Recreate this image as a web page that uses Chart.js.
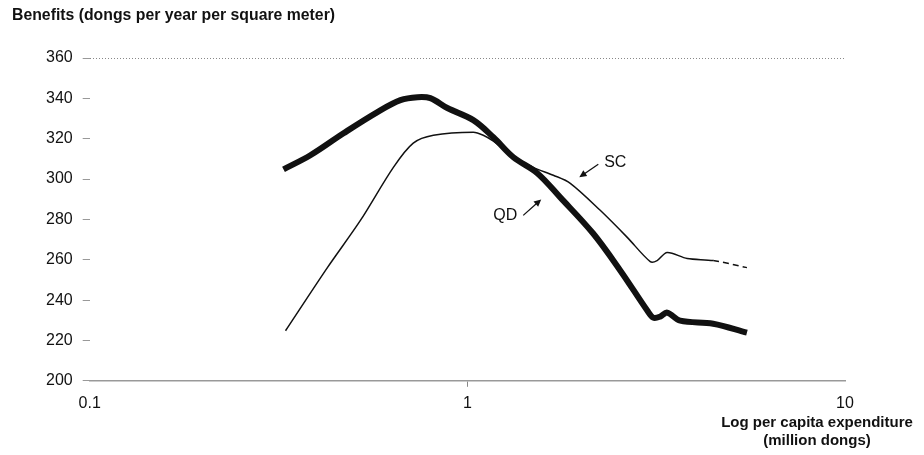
<!DOCTYPE html>
<html>
<head>
<meta charset="utf-8">
<script src="https://cdn.jsdelivr.net/npm/chart.js@4"></script>
<style>
  html, body { margin: 0; padding: 0; background: #fff; }
  canvas { display: block; }
</style>
</head>
<body>
<canvas id="grafico" width="924" height="455"></canvas>
<script>
// ── data ──
const qdX = [0.326, 0.384, 0.470, 0.578, 0.665, 0.738, 0.798, 0.885, 1.037, 1.172, 1.324, 1.532, 1.762, 2.154, 2.540, 2.995, 3.105, 3.24, 3.381, 3.66, 4.476, 5.50];
const qdY = [304.8, 311.8, 322.7, 333.2, 339.1, 340.6, 340.1, 335.2, 329.2, 320.7, 310.8, 302.9, 290.9, 273.0, 254.7, 234.8, 231.3, 231.8, 233.8, 229.8, 228.3, 223.9];

const scX = [0.330, 0.426, 0.521, 0.637, 0.719, 0.813, 1.037, 1.102, 1.172, 1.324, 1.495, 1.689, 1.873, 2.248, 2.651, 3.05, 3.18, 3.381, 3.82, 4.476, 5.50];
const scY = [224.8, 256.1, 279.5, 305.8, 317.8, 321.7, 323.2, 321.7, 318.8, 311.5, 305.8, 301.9, 297.9, 284.5, 271.1, 259.1, 259.6, 263.6, 260.6, 259.6, 256.1];
const scDashFrom = 19; // SC is dashed after this point

const xTicks = [0.1, 1, 10];
const yTicks = [200, 220, 240, 260, 280, 300, 320, 340, 360];

// labels with arrows: text position, arrow start, arrow end (data units)
const notes = ['SC', 'QD'];
const noteX = [2.464, 1.260];
const noteY = [308.3, 282.0];
const arrowFromX = [2.222, 1.406];
const arrowFromY = [307.3, 282.0];
const arrowToX = [1.979, 1.569];
const arrowToY = [300.9, 289.9];

const yTitle = 'Benefits (dongs per year per square meter)';
const xTitle = ['Log per capita expenditure', '(million dongs)'];

const FONT = '"Liberation Sans", Arial, sans-serif';

const toPoints = (xs, ys) => xs.map((x, i) => ({ x: x, y: ys[i] }));

const textos = {
    id: 'textos',
    afterDraw(chart) {
        const ctx = chart.ctx;
        const xs = chart.scales.x;
        const ys = chart.scales.y;
        ctx.save();
        ctx.fillStyle = '#111';
        ctx.strokeStyle = '#111';

        // axis titles
        ctx.font = 'bold 15.8px ' + FONT;
        ctx.textAlign = 'left';
        ctx.textBaseline = 'middle';
        ctx.fillText(yTitle, 12, 16);
        ctx.font = 'bold 15px ' + FONT;
        ctx.textAlign = 'center';
        ctx.fillText(xTitle[0], 817, 423);
        ctx.fillText(xTitle[1], 817, 441);

        // curve labels and arrows
        ctx.font = '16px ' + FONT;
        notes.forEach((txt, i) => {
            ctx.fillText(txt, xs.getPixelForValue(noteX[i]), ys.getPixelForValue(noteY[i]));
            const x1 = xs.getPixelForValue(arrowFromX[i]);
            const y1 = ys.getPixelForValue(arrowFromY[i]);
            const x2 = xs.getPixelForValue(arrowToX[i]);
            const y2 = ys.getPixelForValue(arrowToY[i]);
            const a = Math.atan2(y2 - y1, x2 - x1);
            ctx.lineWidth = 1.3;
            ctx.beginPath();
            ctx.moveTo(x1, y1);
            ctx.lineTo(x2 - 4 * Math.cos(a), y2 - 4 * Math.sin(a));
            ctx.stroke();
            ctx.beginPath();
            ctx.moveTo(x2, y2);
            ctx.lineTo(x2 - 8 * Math.cos(a - 0.45), y2 - 8 * Math.sin(a - 0.45));
            ctx.lineTo(x2 - 8 * Math.cos(a + 0.45), y2 - 8 * Math.sin(a + 0.45));
            ctx.closePath();
            ctx.fill();
        });
        ctx.restore();
    }
};

new Chart(document.getElementById('grafico').getContext('2d'), {
    type: 'line',
    data: {
        datasets: [
            {
                label: 'QD',
                data: toPoints(qdX, qdY),
                borderColor: '#111',
                borderWidth: 6,
                pointRadius: 0,
                tension: 0.35,
                borderCapStyle: 'butt'
            },
            {
                label: 'SC',
                data: toPoints(scX, scY),
                borderColor: '#111',
                borderWidth: 1.5,
                pointRadius: 0,
                tension: 0.3,
                segment: {
                    borderDash: c => c.p0DataIndex >= scDashFrom ? [6, 4] : undefined
                }
            }
        ]
    },
    options: {
        responsive: false,
        animation: false,
        layout: { padding: { left: 36, right: 79, top: 58, bottom: 35 } },
        plugins: {
            legend: { display: false },
            tooltip: { enabled: false }
        },
        scales: {
            x: {
                type: 'logarithmic',
                min: 0.1,
                max: 10,
                afterBuildTicks: s => { s.ticks = xTicks.map(v => ({ value: v })); },
                ticks: {
                    color: '#111',
                    font: { family: FONT, size: 16 },
                    padding: 7,
                    maxRotation: 0,
                    callback: v => String(v)
                },
                grid: {
                    drawOnChartArea: false,
                    tickLength: 6,
                    tickColor: c => c.tick && c.tick.value === 1 ? '#888' : 'transparent'
                },
                border: { display: true, color: '#999', width: 1.5 }
            },
            y: {
                min: 200,
                max: 360,
                afterBuildTicks: s => { s.ticks = yTicks.map(v => ({ value: v })); },
                ticks: {
                    color: '#111',
                    font: { family: FONT, size: 16 },
                    padding: 10
                },
                grid: {
                    color: c => c.tick && c.tick.value === 360 ? '#888' : 'transparent',
                    lineWidth: 1,
                    tickLength: 7,
                    tickColor: '#999'
                },
                border: { display: false, dash: [1, 2] }
            }
        }
    },
    plugins: [textos]
});
</script>
</body>
</html>
